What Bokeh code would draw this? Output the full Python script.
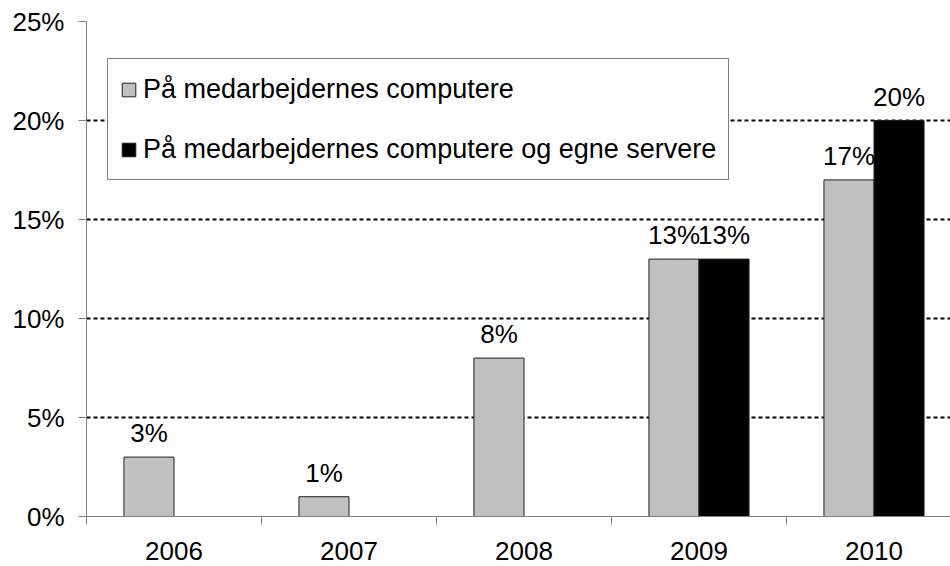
from bokeh.plotting import figure
from bokeh.models import (FixedTicker, PrintfTickFormatter, Legend, LegendItem,
                          ColumnDataSource, Range1d)
from bokeh.core.properties import value
from bokeh.embed import file_html
from bokeh.resources import INLINE

years = ["2006", "2007", "2008", "2009", "2010"]
series_gray_name = "På medarbejdernes computere"
series_black_name = "På medarbejdernes computere og egne servere"
gray_values = [3, 1, 8, 13, 17]
black_values = [None, None, None, 13, 20]
y_ticks = [0, 5, 10, 15, 20, 25]

FONT = "Liberation Sans"
FS = "26px"
LFS = "27px"

centers = [i + 0.5 for i in range(len(years))]
bw = 0.286

gx = [c - bw / 2 for c in centers]
g_src = ColumnDataSource(dict(x=gx, top=gray_values,
                              label=[f"{v}%" for v in gray_values]))
bx = [c + bw / 2 for c, v in zip(centers, black_values) if v is not None]
bt = [v for v in black_values if v is not None]
b_src = ColumnDataSource(dict(x=bx, top=bt, label=[f"{v}%" for v in bt]))

p = figure(width=950, height=566, output_backend="svg", toolbar_location=None,
           x_range=Range1d(0, 864 / 175), y_range=Range1d(0, 25),
           min_border_left=86, min_border_top=21, min_border_right=0,
           min_border_bottom=50)
p.outline_line_color = None
p.background_fill_color = "white"

rg = p.vbar(x="x", top="top", width=bw, bottom=0, source=g_src,
            fill_color="#c0c0c0", line_color="#202020", line_width=1)
rb = p.vbar(x="x", top="top", width=bw, bottom=0, source=b_src,
            fill_color="black", line_color="#202020", line_width=1)

for src in (g_src, b_src):
    p.text(x="x", y="top", text="label", source=src, text_align="center",
           text_baseline="alphabetic", y_offset=-24,
           text_font=value(FONT), text_font_size=FS, text_color="black")

# grid
p.xgrid.visible = False
p.ygrid.ticker = FixedTicker(ticks=y_ticks[1:])
p.ygrid.grid_line_color = "black"
p.ygrid.grid_line_dash = "4 3"
p.ygrid.grid_line_width = 1.8

# y axis
ya = p.yaxis[0]
ya.ticker = FixedTicker(ticks=y_ticks)
ya.formatter = PrintfTickFormatter(format="%d%%")
ya.axis_line_color = "#808080"
ya.major_tick_line_color = "#808080"
ya.major_tick_out = 8
ya.major_tick_in = 0
ya.minor_tick_line_color = None
ya.major_label_standoff = 14
ya.major_label_text_font = FONT
ya.major_label_text_font_size = FS
ya.major_label_text_color = "black"

# x axis
xa = p.xaxis[0]
xa.ticker = FixedTicker(ticks=centers, minor_ticks=list(range(len(years) + 1)))
xa.major_label_overrides = {c: y for c, y in zip(centers, years)}
xa.axis_line_color = "#808080"
xa.major_tick_line_color = None
xa.major_tick_out = 0
xa.major_tick_in = 0
xa.minor_tick_line_color = "#808080"
xa.minor_tick_out = 8
xa.minor_tick_in = 0
xa.major_label_standoff = 17
xa.major_label_text_font = FONT
xa.major_label_text_font_size = FS
xa.major_label_text_color = "black"

legend = Legend(items=[LegendItem(label=series_gray_name, renderers=[rg]),
                       LegendItem(label=series_black_name, renderers=[rb])],
                location=(21, 336))
legend.label_text_font = FONT
legend.label_text_font_size = LFS
legend.label_text_color = "black"
legend.glyph_width = 17
legend.glyph_height = 17
legend.label_height = 36
legend.label_standoff = 6
legend.spacing = 24
legend.padding = 12
legend.margin = 0
legend.border_line_color = "black"
legend.border_line_width = 1
legend.background_fill_color = "white"
legend.background_fill_alpha = 1.0
p.add_layout(legend, "center")

open("out.html", "w").write(file_html(p, INLINE))
